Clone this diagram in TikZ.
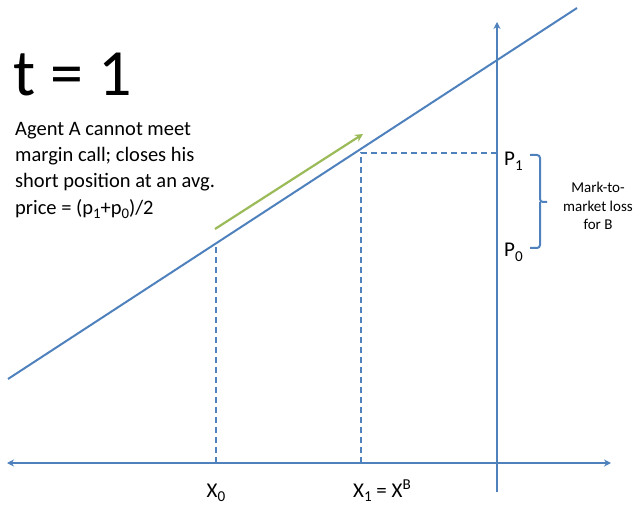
\documentclass[tikz,border=0pt]{standalone}
\usepackage{fontspec}
\setmainfont{Carlito}
\usetikzlibrary{arrows.meta}
\definecolor{lblue}{HTML}{4F81BD}
\definecolor{lgreen}{HTML}{9BBB59}
\newcommand{\sbs}[1]{\raisebox{-0.45ex}{\scalebox{0.72}{#1}}}
\newcommand{\sps}[1]{\raisebox{0.7ex}{\scalebox{0.72}{#1}}}
\tikzset{
  axis/.style={draw=lblue, line width=2pt, -{Stealth[length=7pt,width=7pt]}},
  curve/.style={draw=lblue, line width=2pt},
  guide/.style={draw=lblue, line width=1.6pt, dash pattern=on 6pt off 4pt},
  lbl/.style={inner sep=0pt, font=\fontsize{21}{26}\selectfont},
}
\begin{document}
\begin{tikzpicture}[x=1pt,y=-1pt]
\useasboundingbox (0,0) rectangle (641,508);
% named coordinates
\coordinate (xl) at (7,463);
\coordinate (xr) at (611,463);
\coordinate (yb) at (497,492);
\coordinate (yt) at (497,22);
\coordinate (s0) at (8,379);
\coordinate (s1) at (577,8);
\coordinate (d0t) at (216,245);
\coordinate (d0b) at (216,463);
\coordinate (d1t) at (361,153);
\coordinate (d1b) at (361,463);
\coordinate (d1r) at (497,153);
\coordinate (g0) at (215,229);
\coordinate (g1) at (363,134);
% axes
\draw[axis] (yb) -- (yt);
\draw[axis, {Stealth[length=7pt,width=7pt]}-{Stealth[length=7pt,width=7pt]}] (xl) -- (xr);
% supply line
\draw[curve] (s0) -- (s1);
% dashed guides
\draw[guide] (d0b) -- (d0t);
\draw[guide] (d1b) -- (d1t) -- (d1r);
% green arrow
\draw[draw=lgreen, line width=2.2pt, -{Stealth[length=8pt,width=8pt]}] (g0) -- (g1);
% brace
\coordinate (bt) at (530,155);
\coordinate (bb) at (530,248);
\coordinate (btip) at (547,202);
\draw[curve, rounded corners=3pt] (bt) -- (540,155) -- (540,202) -- (btip);
\draw[curve, rounded corners=3pt] (bb) -- (540,248) -- (540,202);
% texts
\node[inner sep=0pt, anchor=base west, font=\fontsize{66}{66}\selectfont] (title) at (13,96) {t = 1};
\node[inner sep=0pt, anchor=north west, align=left, font=\fontsize{20.5}{26.3}\selectfont] (desc) at (15,122)
 {Agent A cannot meet\\margin call; closes his\\short position at an avg.\\price = (p\sbs{1}+p\sbs{0})/2};
\node[lbl, anchor=base west] (p1) at (504,166) {P\sbs{1}};
\node[lbl, anchor=base west] (p0) at (504,257) {P\sbs{0}};
\node[inner sep=0pt, anchor=north, align=center, font=\fontsize{15}{18.5}\selectfont] (mtm) at (598,182) {Mark-to-\\market loss\\for B};
\node[lbl, anchor=base] (x0) at (216,497) {X\sbs{0}};
\node[lbl, anchor=base] (x1) at (382,497) {X\sbs{1} = X\sps{B}};
\end{tikzpicture}
\end{document}
